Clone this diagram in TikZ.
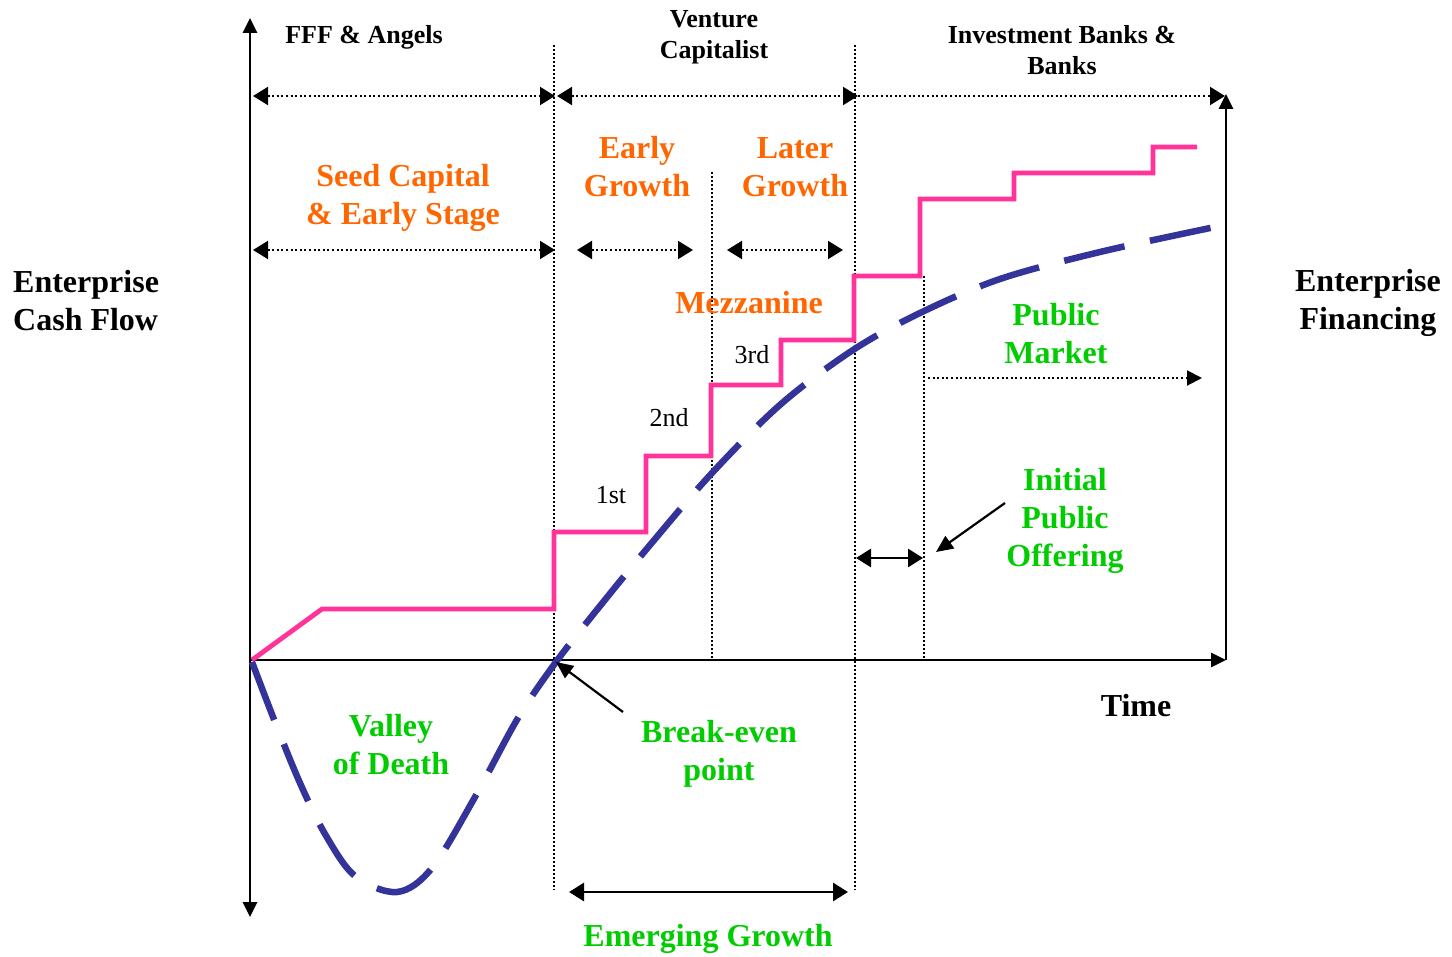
\documentclass[tikz,border=0pt]{standalone}
\usepackage{fontspec}
\setmainfont{Liberation Serif}
\usetikzlibrary{arrows.meta}
\definecolor{pinkc}{HTML}{FF3399}
\definecolor{bluec}{HTML}{333399}
\definecolor{orangec}{HTML}{FF6600}
\definecolor{greenc}{HTML}{00CC00}
\begin{document}
\begin{tikzpicture}[x=1pt,y=-1pt,
  lbl/.style={font=\fontsize{32}{38}\selectfont\bfseries, align=center, inner sep=0pt},
  slbl/.style={font=\fontsize{26}{31}\selectfont\bfseries, align=center, inner sep=0pt},
  rlbl/.style={font=\fontsize{26}{31}\selectfont, inner sep=0pt},
  axis/.style={line width=2.8pt, black},
  ahead/.style={-{Triangle[length=15pt,width=14pt]}},
  dhead/.style={{Triangle[length=15pt,width=18pt]}-{Triangle[length=15pt,width=18pt]}},
  dotarrow/.style={line width=2pt, dash pattern=on 2pt off 2.6pt},
  vdot/.style={line width=1.4pt, dash pattern=on 1.6pt off 2.4pt},
  solidarrow/.style={line width=2.8pt, {Triangle[length=15pt,width=18pt]}-{Triangle[length=15pt,width=18pt]}},
  pointer/.style={line width=2.2pt, -{Triangle[length=17pt,width=15pt]}},
  stair/.style={pinkc, line width=4.8pt, line join=miter},
  cashcurve/.style={bluec, line width=6.5pt, dash pattern=on 62pt off 26pt}
]
\useasboundingbox (0,0) rectangle (1452,957);

% coordinates
\coordinate (O) at (250,660);
\coordinate (ytop) at (250,18);
\coordinate (ybot) at (250,917);
\coordinate (xend) at (1226,660);
\coordinate (rtop) at (1226,94);

% vertical dotted separators
\coordinate (v1t) at (554,45);  \coordinate (v1b) at (554,890);
\coordinate (v2t) at (712,172); \coordinate (v2b) at (712,660);
\coordinate (v3t) at (855,45);  \coordinate (v3b) at (855,890);
\coordinate (v4t) at (924,276); \coordinate (v4b) at (924,660);
\draw[vdot] (v1t) -- (v1b);
\draw[vdot] (v2t) -- (v2b);
\draw[vdot] (v3t) -- (v3b);
\draw[vdot] (v4t) -- (v4b);

% dotted range arrows
\coordinate (a1l) at (253,96);  \coordinate (a1r) at (555,96);
\coordinate (a2l) at (557,96);  \coordinate (a2r) at (858,96);
\coordinate (a3l) at (858,96);  \coordinate (a3r) at (1225,96);
\draw[dotarrow, dhead] (a1l) -- (a1r);
\draw[dotarrow, dhead] (a2l) -- (a2r);
\draw[dotarrow, -{Triangle[length=15pt,width=18pt]}] (a3l) -- (a3r);

\coordinate (b1l) at (253,250); \coordinate (b1r) at (555,250);
\coordinate (b2l) at (577,250); \coordinate (b2r) at (693,250);
\coordinate (b3l) at (727,250); \coordinate (b3r) at (843,250);
\draw[dotarrow, dhead] (b1l) -- (b1r);
\draw[dotarrow, dhead] (b2l) -- (b2r);
\draw[dotarrow, dhead] (b3l) -- (b3r);

\coordinate (pml) at (928,378); \coordinate (pmr) at (1202,378);
\draw[dotarrow, -{Triangle[length=15pt,width=15pt]}] (pml) -- (pmr);

% axes
\draw[axis, {Triangle[length=15pt,width=14pt]}-{Triangle[length=15pt,width=14pt]}] (ybot) -- (ytop);
\draw[axis, ahead] (O) -- (xend);
\draw[axis, ahead] (xend) -- (rtop);

% financing staircase
\draw[stair] (252,660) -- (322,609) -- (554,609) -- (554,532) -- (646,532) -- (646,456)
  -- (711,456) -- (711,385) -- (781,385) -- (781,340) -- (854,340) -- (854,276)
  -- (920,276) -- (920,199) -- (1014,199) -- (1014,173) -- (1153,173) -- (1153,147) -- (1197,147);

% cash flow curve
\draw[cashcurve] plot[smooth, tension=0.55] coordinates {
  (252,662) (275,722) (300,783) (325,834) (355,876) (397,892) (432,868) (475,797)
  (518,718) (556,662) (600,606) (650,545) (712,473) (781,404) (853,350) (920,313)
  (1000,279) (1100,252) (1215,227)};

% IPO / emerging arrows
\coordinate (ipl) at (856,558); \coordinate (ipr) at (923,558);
\draw[solidarrow] (ipl) -- (ipr);
\coordinate (egl) at (569,892); \coordinate (egr) at (848,892);
\draw[solidarrow] (egl) -- (egr);

% labels
\node[slbl] (fff) at (364,37) {FFF \& Angels};
\node[slbl] (vc) at (714,37) {Venture\\Capitalist};
\node[slbl] (ib) at (1062,50) {Investment Banks \&\\Banks};

\node[lbl, text=orangec] (seed) at (403,198) {Seed Capital\\\& Early Stage};
\node[lbl, text=orangec] (early) at (637,167) {Early\\Growth};
\node[lbl, text=orangec] (later) at (795,167) {Later\\Growth};
\node[lbl, text=orangec] (mezz) at (749,303) {Mezzanine};

\node[rlbl] (first) at (611,495) {1st};
\node[rlbl] (second) at (669,418) {2nd};
\node[rlbl] (third) at (752,355) {3rd};

\node[lbl, align=left, anchor=west] (ecf) at (13,301) {Enterprise\\Cash Flow};
\node[lbl] (ef) at (1368,303) {Enterprise\\Financing};

\node[lbl, text=greenc] (pm) at (1056,334) {Public\\Market};
\node[lbl, text=greenc] (ipo) at (1065,521) {Initial\\Public\\Offering};
\node[lbl] (time) at (1136,706) {Time};
\node[lbl, text=greenc] (vod) at (391,745) {Valley\\of Death};
\node[lbl, text=greenc] (be) at (719,754) {Break-even\\point};
\node[lbl, text=greenc] (eg) at (708,939) {Emerging Growth};

% pointers
\coordinate (ipotail) at (1005,503);
\coordinate (ipotip) at (936,552);
\coordinate (betail) at (623,712);
\coordinate (betip) at (556,662);
\draw[pointer] (ipotail) -- (ipotip);
\draw[pointer] (betail) -- (betip);
\end{tikzpicture}
\end{document}
